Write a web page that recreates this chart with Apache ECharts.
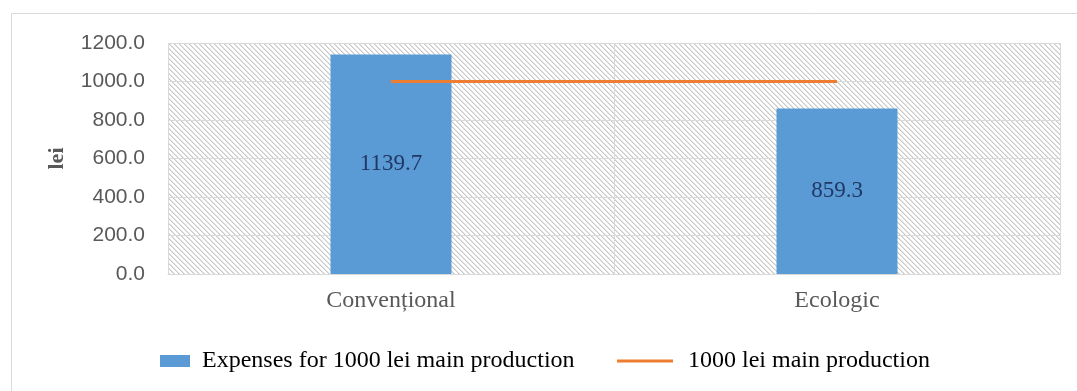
<!DOCTYPE html>
<html><head><meta charset="utf-8">
<script src="https://cdn.jsdelivr.net/npm/echarts@6/dist/echarts.min.js"></script>
<style>html,body{margin:0;padding:0;background:#fff}#c{width:1077px;height:391px}</style>
</head><body><div id="c"></div>
<script>
const categories = ['Convențional', 'Ecologic'];
const seriesNames = ['Expenses for 1000 lei main production', '1000 lei main production'];
const expenses = [1139.7, 859.3];
const production = [1000, 1000];
const yMin = 0, yMax = 1200, yStep = 200;
const yAxisName = 'lei';

// hatch pattern for plot background
const tile = document.createElement('canvas');
tile.width = 5; tile.height = 5;
const tc = tile.getContext('2d');
tc.fillStyle = '#ffffff'; tc.fillRect(0, 0, 5, 5);
for (let i = 0; i < 5; i++) {
  tc.fillStyle = '#c8c8c8'; tc.fillRect(i, i, 1, 1);
  tc.fillStyle = '#e2e2e2'; tc.fillRect((i + 1) % 5, i, 1, 1);
}

const chart = echarts.init(document.getElementById('c'), null, {renderer: 'canvas'});
chart.setOption({
  animation: false,
  backgroundColor: '#ffffff',
  graphic: [{
    type: 'rect', silent: true, z: -10,
    shape: {x: 11.5, y: 13.5, width: 1100, height: 420},
    style: {fill: 'none', stroke: '#d9d9d9', lineWidth: 1}
  }],
  grid: {
    left: 168, right: 17, top: 43, bottom: 117,
    show: true, borderWidth: 0,
    backgroundColor: {image: tile, repeat: 'repeat'}
  },
  legend: [{
    data: [{name: seriesNames[0], icon: 'rect'}],
    left: 155, top: 344,
    itemWidth: 30, itemHeight: 12,
    textStyle: {fontFamily: 'Liberation Serif', fontSize: 24, color: '#000000', padding: [0, 0, 0, 7]}
  }, {
    data: [{name: seriesNames[1], icon: 'rect'}],
    left: 612, top: 344,
    itemWidth: 56, itemHeight: 3,
    textStyle: {fontFamily: 'Liberation Serif', fontSize: 24, color: '#000000', padding: [0, 0, 0, 10]}
  }],
  xAxis: {
    type: 'category',
    data: categories,
    boundaryGap: true,
    axisLine: {show: true, lineStyle: {color: '#d9d9d9', width: 1}},
    axisTick: {show: false},
    splitLine: {show: true, lineStyle: {color: '#d9d9d9', width: 1}},
    axisLabel: {fontFamily: 'Liberation Serif', fontSize: 24, color: '#595959', margin: 15}
  },
  yAxis: {
    type: 'value',
    min: yMin, max: yMax, interval: yStep,
    name: yAxisName,
    nameLocation: 'middle',
    nameRotate: 90,
    nameGap: 100,
    nameTextStyle: {fontFamily: 'Liberation Serif', fontSize: 22, fontWeight: 'bold', color: '#595959'},
    axisLine: {show: false},
    axisTick: {show: false},
    splitLine: {show: true, lineStyle: {color: '#d9d9d9', width: 1}},
    axisLabel: {
      fontFamily: 'Liberation Sans', fontSize: 21, color: '#595959', margin: 23,
      formatter: v => v.toFixed(1)
    }
  },
  series: [{
    name: seriesNames[0],
    type: 'bar',
    data: expenses,
    barWidth: 121,
    itemStyle: {color: '#5b9bd5'},
    label: {
      show: true, position: 'inside',
      fontFamily: 'Liberation Serif', fontSize: 23, color: '#203864',
      formatter: p => p.value.toFixed(1)
    }
  }, {
    name: seriesNames[1],
    type: 'line',
    data: production,
    showSymbol: false,
    symbol: 'none',
    lineStyle: {color: '#ed7d31', width: 3},
    itemStyle: {color: '#ed7d31'},
    z: 3
  }]
});
</script>
</body></html>
